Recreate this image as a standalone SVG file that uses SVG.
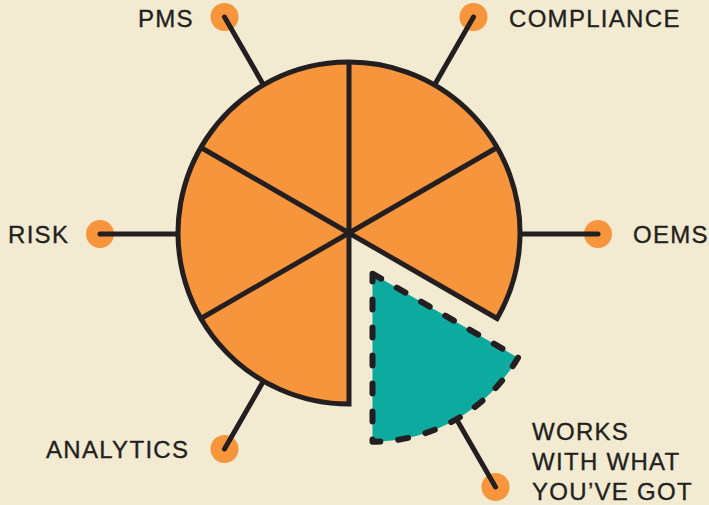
<svg xmlns="http://www.w3.org/2000/svg" width="709" height="505" viewBox="0 0 709 505">
  <style>
    .dot { fill: #F7953D; }
    .conn { stroke: #231F20; stroke-width: 5; stroke-linecap: round; fill: none; }
    .lbl { font-family: "Liberation Sans", Arial, sans-serif; font-size: 24px; letter-spacing: 1.3px; fill: #231F20; stroke: #231F20; stroke-width: 0.35px; }
    .slice { fill: #F7953D; stroke: #231F20; stroke-width: 5; stroke-linejoin: miter; }
    .div { stroke: #231F20; stroke-width: 5; stroke-linecap: butt; }
    .teal { fill: #0DAB9F; stroke: #231F20; stroke-width: 6; stroke-dasharray: 10 18; stroke-linecap: round; stroke-linejoin: round; }
  </style>
  <rect x="0" y="0" width="709" height="505" fill="#F2EBD2"/>

  <g id="dots">
    <circle class="dot" cx="224.5" cy="17" r="14"/>
    <circle class="dot" cx="473.5" cy="17" r="14"/>
    <circle class="dot" cx="100" cy="234" r="14"/>
    <circle class="dot" cx="598" cy="234" r="14"/>
    <circle class="dot" cx="224.5" cy="449" r="14"/>
    <circle class="dot" cx="495.5" cy="487" r="14"/>
  </g>

  <g id="connectors">
    <line class="conn" x1="263.5" y1="84.9" x2="224.5" y2="17"/>
    <line class="conn" x1="434.5" y1="84.9" x2="473.5" y2="17"/>
    <line class="conn" x1="178" y1="234" x2="100" y2="234"/>
    <line class="conn" x1="520" y1="234" x2="598" y2="234"/>
    <line class="conn" x1="263.5" y1="381.1" x2="224.5" y2="449"/>
    <line class="conn" x1="456.5" y1="419.2" x2="495.5" y2="487"/>
  </g>

  <g id="pie">
    <path class="slice" d="M349,233 L349,404 A171,171 0 1 1 497.1,318.5 Z"/>
    <line class="div" x1="349" y1="233" x2="349" y2="62"/>
    <line class="div" x1="349" y1="233" x2="497.1" y2="147.5"/>
    <line class="div" x1="349" y1="233" x2="200.9" y2="147.5"/>
    <line class="div" x1="349" y1="233" x2="200.9" y2="318.5"/>
  </g>

  <g id="works-slice">
    <path class="teal" d="M372.5,273.7 L518,357.7 A168,168 0 0 1 372.5,441.7 Z"/>
  </g>

  <g id="node-pms"><text class="lbl" x="138" y="27">PMS</text></g>
  <g id="node-compliance"><text class="lbl" x="509" y="27">COMPLIANCE</text></g>
  <g id="node-risk"><text class="lbl" x="8" y="243">RISK</text></g>
  <g id="node-oems"><text class="lbl" x="633" y="243">OEMS</text></g>
  <g id="node-analytics"><text class="lbl" x="46" y="458">ANALYTICS</text></g>
  <g id="node-works">
    <text class="lbl" x="532" y="440">WORKS</text>
    <text class="lbl" x="532" y="470">WITH WHAT</text>
    <text class="lbl" x="532" y="500">YOU’VE GOT</text>
  </g>
</svg>
